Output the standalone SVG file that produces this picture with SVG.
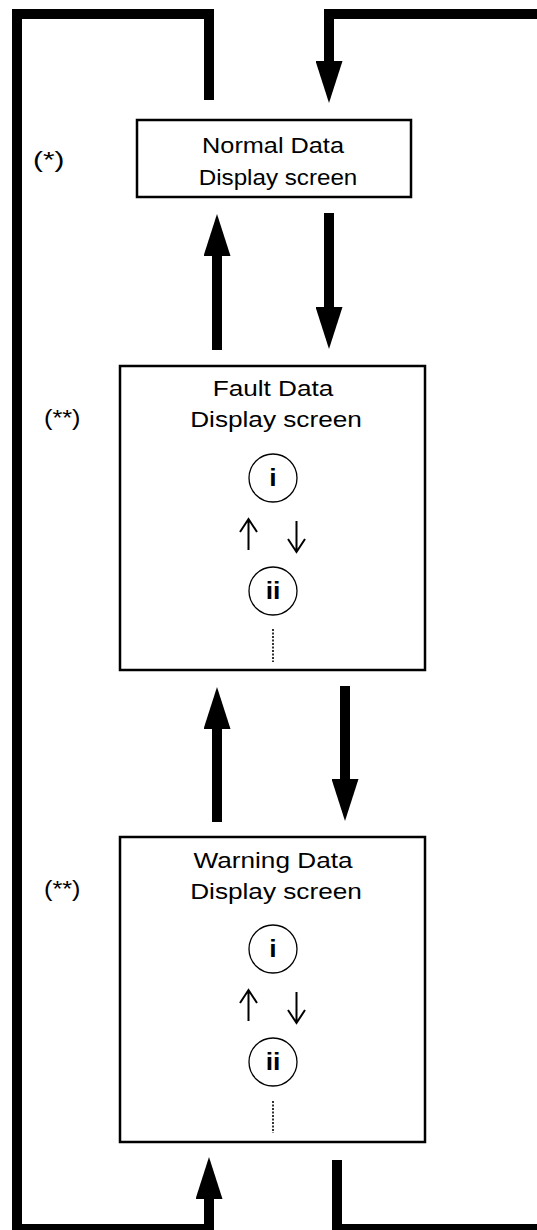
<svg xmlns="http://www.w3.org/2000/svg" width="537" height="1230" viewBox="0 0 537 1230">
  <style>
    .box { fill: #fff; stroke: #000; stroke-width: 2.5; }
    .lbl { font-family: "Liberation Sans", Arial, sans-serif; font-size: 22px; fill: #000; }
    .ttl { font-family: "Liberation Sans", Arial, sans-serif; font-size: 22px; fill: #000; text-anchor: middle; }
    .num { font-family: "Liberation Sans", Arial, sans-serif; font-size: 23px; font-weight: bold; fill: #000; text-anchor: middle; }
    .circ { fill: none; stroke: #000; stroke-width: 1.3; }
    .small { fill: none; stroke: #000; stroke-width: 2; }
    .dots { stroke: #000; stroke-width: 1.6; stroke-dasharray: 2 1.5; }
    .thick { fill: none; stroke: #000; stroke-width: 10; stroke-linejoin: miter; stroke-linecap: butt; marker-end: url(#ah); }
  </style>
  <defs>
    <marker id="ah" viewBox="0 0 42 27" refX="0" refY="13.5" markerWidth="42" markerHeight="27" markerUnits="userSpaceOnUse" orient="auto">
      <path d="M0,0 L42,13.5 L0,27 Z" fill="#000"/>
    </marker>
  </defs>

  <g id="connectors">
    <path class="thick" d="M209,100 V14 H17 V1229 H209 V1199"/>
    <path class="thick" d="M337,1160 V1229 H537 M537,14 H329 V61"/>
    <path class="thick" d="M329,213 V307"/>
    <path class="thick" d="M217,350 V256"/>
    <path class="thick" d="M345,686 V779"/>
    <path class="thick" d="M217,822 V729"/>
  </g>

  <g id="normal">
    <rect class="box" x="137" y="120" width="274" height="77"/>
    <text class="ttl" transform="translate(273,153) scale(1.15,1)">Normal Data</text>
    <text class="ttl" transform="translate(278,185) scale(1.1,1)">Display screen</text>
    <text class="lbl" transform="translate(33,167) scale(1.35,1)">(*)</text>
  </g>

  <g id="fault">
    <rect class="box" x="120" y="366" width="305" height="304"/>
    <text class="ttl" transform="translate(273,396) scale(1.19,1)">Fault Data</text>
    <text class="ttl" transform="translate(276,427) scale(1.19,1)">Display screen</text>
    <text class="lbl" transform="translate(44,425) scale(1.15,1)">(**)</text>
    <circle class="circ" cx="273" cy="478" r="24"/>
    <text class="num" transform="translate(273,486) scale(1.15,1)">i</text>
    <path class="small" d="M248.5,550 V519 M240,532 L248.5,519 L257,532"/>
    <path class="small" d="M296.5,521 V552 M288,539 L296.5,552 L305,539"/>
    <circle class="circ" cx="273" cy="591" r="24"/>
    <text class="num" transform="translate(273,599) scale(1.15,1)">ii</text>
    <line class="dots" x1="273" y1="629" x2="273" y2="662"/>
  </g>

  <g id="warning">
    <rect class="box" x="120" y="837" width="305" height="305"/>
    <text class="ttl" transform="translate(273,868) scale(1.19,1)">Warning Data</text>
    <text class="ttl" transform="translate(276,899) scale(1.19,1)">Display screen</text>
    <text class="lbl" transform="translate(44,896) scale(1.15,1)">(**)</text>
    <circle class="circ" cx="273" cy="949" r="24"/>
    <text class="num" transform="translate(273,957) scale(1.15,1)">i</text>
    <path class="small" d="M248.5,1021 V990 M240,1003 L248.5,990 L257,1003"/>
    <path class="small" d="M296.5,992 V1023 M288,1010 L296.5,1023 L305,1010"/>
    <circle class="circ" cx="273" cy="1062" r="24"/>
    <text class="num" transform="translate(273,1070) scale(1.15,1)">ii</text>
    <line class="dots" x1="273" y1="1101" x2="273" y2="1133"/>
  </g>
</svg>
